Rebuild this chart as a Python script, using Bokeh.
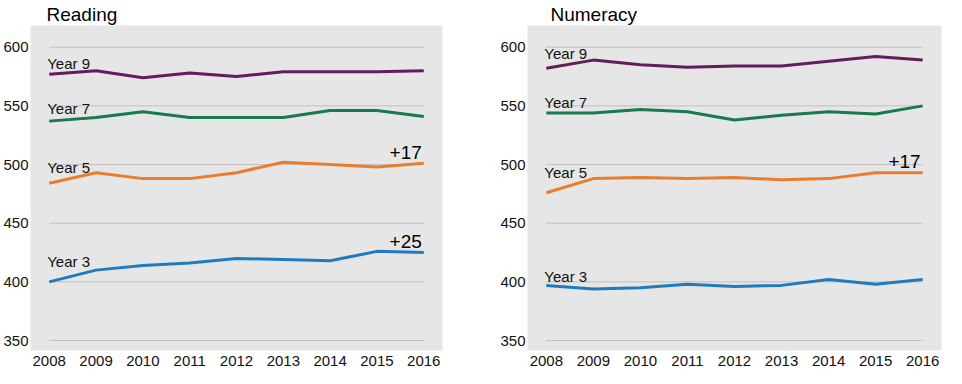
from bokeh.plotting import figure
from bokeh.layouts import row
from bokeh.models import Range1d, FixedTicker
from bokeh.core.properties import value
from bokeh.embed import file_html
from bokeh.resources import INLINE

# ---- data ----
years = [2008, 2009, 2010, 2011, 2012, 2013, 2014, 2015, 2016]
y_ticks = [350, 400, 450, 500, 550, 600]
series_names = ["Year 3", "Year 5", "Year 7", "Year 9"]

reading_year3 = [400, 410, 414, 416, 420, 419, 418, 426, 425]
reading_year5 = [484, 493, 488, 488, 493, 502, 500, 498, 501]
reading_year7 = [537, 540, 545, 540, 540, 540, 546, 546, 541]
reading_year9 = [577, 580, 574, 578, 575, 579, 579, 579, 580]

numeracy_year3 = [397, 394, 395, 398, 396, 397, 402, 398, 402]
numeracy_year5 = [476, 488, 489, 488, 489, 487, 488, 493, 493]
numeracy_year7 = [544, 544, 547, 545, 538, 542, 545, 543, 550]
numeracy_year9 = [582, 589, 585, 583, 584, 584, 588, 592, 589]

annotated_reading = ["Year 5", "Year 3"]
annotated_numeracy = ["Year 5"]

# ---- styles ----
FONT = "Liberation Sans"
colors = {"Year 3": "#1f7bc0", "Year 5": "#ea7d2d", "Year 7": "#197a4c", "Year 9": "#641d5c"}
# pixel offsets (text centre relative to the line start)
label_offsets_reading = {"Year 3": -20, "Year 5": -16, "Year 7": -13, "Year 9": -11}
label_offsets_numeracy = {"Year 3": -9, "Year 5": -20, "Year 7": -10, "Year 9": -15}
ANNOT_OFFSET = -11


def make_panel(title, data, annotated, label_offsets, width, border_left, border_right, title_offset):
    p = figure(width=width, height=368, output_backend="svg", toolbar_location=None,
               x_range=Range1d(2007.6, 2016.4), y_range=Range1d(341.5, 618.5),
               min_border_left=border_left, min_border_right=border_right,
               min_border_top=0, min_border_bottom=0)
    p.title.text = title
    p.title.text_font = FONT
    p.title.text_font_size = "19px"
    p.title.text_font_style = "normal"
    p.title.text_color = "#000000"
    p.title.align = "left"
    p.title.offset = title_offset
    p.title.standoff = 2
    p.background_fill_color = "#e6e6e6"
    p.border_fill_color = "white"
    p.outline_line_color = None
    p.xgrid.visible = False
    p.ygrid.visible = False

    for ax, ticks in ((p.xaxis, years), (p.yaxis, y_ticks)):
        ax.ticker = FixedTicker(ticks=ticks)
        ax.axis_line_color = None
        ax.major_tick_line_color = None
        ax.minor_tick_line_color = None
        ax.major_tick_out = 0
        ax.major_tick_in = 0
        ax.major_label_text_font = FONT
        ax.major_label_text_font_size = "15px"
        ax.major_label_text_color = "#111111"
    p.yaxis.major_label_standoff = 2
    p.xaxis.major_label_standoff = 5

    # gridlines spanning the year extent only
    p.segment(x0=[years[0]] * len(y_ticks), x1=[years[-1]] * len(y_ticks),
              y0=y_ticks, y1=y_ticks, line_color="#bfbfbf", line_width=1)

    for name in series_names:
        vals = data[name]
        p.line(years, vals, line_color=colors[name], line_width=3, line_join="round")
        p.text(x=[years[0]], y=[vals[0]], text=[name], text_font=value(FONT),
               text_font_size="15px", text_color="#111111", text_align="left",
               text_baseline="middle", x_offset=-2, y_offset=label_offsets[name])
        if name in annotated:
            diff = vals[-1] - vals[0]
            p.text(x=[years[-1]], y=[vals[-1]], text=[f"+{diff}"], text_font=value(FONT),
                   text_font_size="19px", text_color="#000000", text_align="right",
                   text_baseline="middle", x_offset=-2, y_offset=ANNOT_OFFSET)
    return p


reading = {"Year 3": reading_year3, "Year 5": reading_year5,
           "Year 7": reading_year7, "Year 9": reading_year9}
numeracy = {"Year 3": numeracy_year3, "Year 5": numeracy_year5,
            "Year 7": numeracy_year7, "Year 9": numeracy_year9}

p1 = make_panel("Reading", reading, annotated_reading, label_offsets_reading,
                width=470, border_left=27, border_right=28, title_offset=16)
p2 = make_panel("Numeracy", numeracy, annotated_numeracy, label_offsets_numeracy,
                width=476, border_left=57, border_right=5, title_offset=23)

layout = row(p1, p2)
open("out.html", "w").write(file_html(layout, INLINE))
